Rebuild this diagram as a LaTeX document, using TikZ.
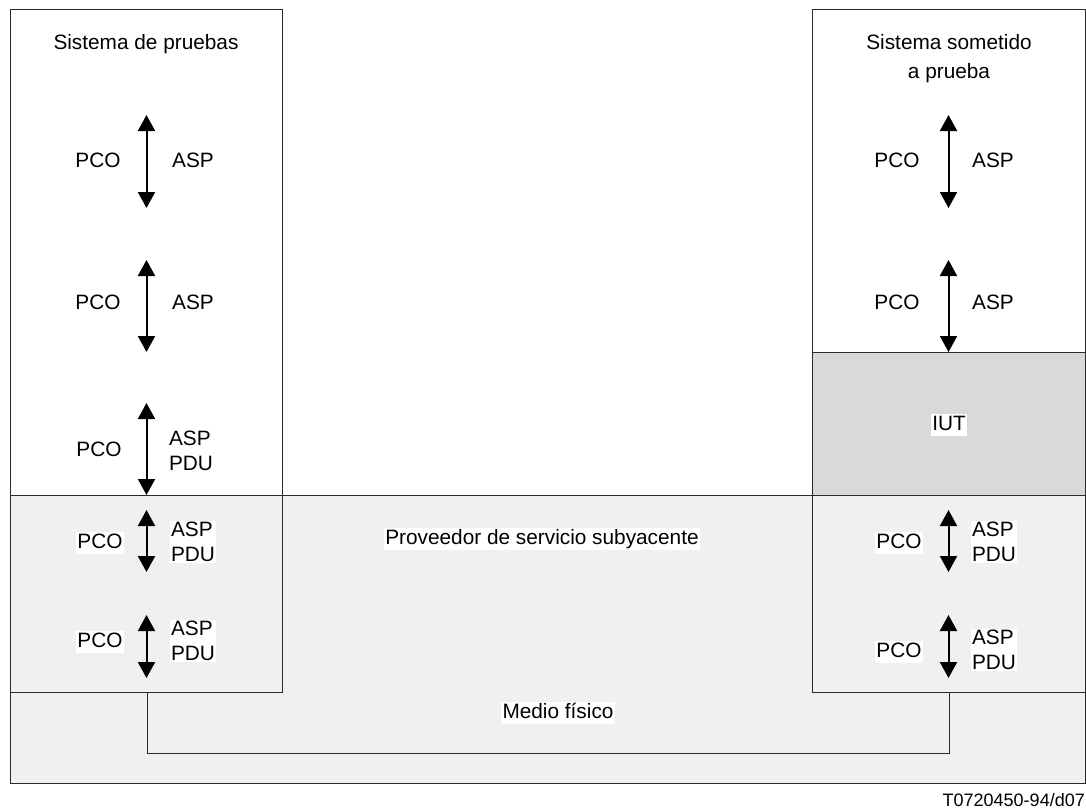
\documentclass[tikz,border=0pt]{standalone}
\usepackage{fontspec}
\setmainfont{Liberation Sans}
\usetikzlibrary{arrows.meta}
\definecolor{layergray}{HTML}{F0F0F0}
\definecolor{iutgray}{HTML}{D9D9D9}
\definecolor{edge}{HTML}{2A2A2A}

\begin{document}
\begin{tikzpicture}[x=1pt,y=-1pt,
  frame/.style={draw=edge, line width=1pt},
  lbl/.style={fill=white, inner sep=1.5pt, font=\fontsize{20.8}{24}\selectfont,
              text height=15pt, text depth=4pt},
  lbltwo/.style={fill=white, inner sep=1.5pt, font=\fontsize{20.8}{25}\selectfont,
                 align=left},
  heading/.style={font=\fontsize{20.8}{29}\selectfont, align=center},
  sap/.style={line width=2pt,
              {Triangle[width=17pt,length=16pt]}-{Triangle[width=17pt,length=16pt]}},
  link/.style={draw=edge, line width=1pt}
]
\useasboundingbox (0,0) rectangle (1086,808);

% physical medium and underlying service provider layer
\fill[layergray] (10,495) rectangle (1085,783);
\draw[frame] (10,495) rectangle (1085,783);

% test system
\fill[white] (10,10) rectangle (282,495);
\draw[frame] (10,10) rectangle (282,692);
\draw[frame] (10,495) -- (282,495);

% system under test, with the IUT layer
\fill[white] (812,10) rectangle (1085,352);
\fill[iutgray] (812,352) rectangle (1085,495);
\draw[frame] (812,10) rectangle (1085,692);
\draw[frame] (812,352) -- (1085,352);
\draw[frame] (812,495) -- (1085,495);

% headings
\node[heading] (tstitle) at (146,44) {Sistema de pruebas};
\node[heading] (suttitle) at (949,59) {Sistema sometido\\a prueba};
\node[lbl] (iut) at (949,425) {IUT};
\node[lbl] (usp) at (542,539) {Proveedor de servicio subyacente};
\node[lbl] (medium) at (558,713) {Medio f\'{\i}sico};

% points of control and observation, test system side
\coordinate (l1t) at (146.5,115); \coordinate (l1b) at (146.5,208);
\coordinate (l2t) at (146.5,260); \coordinate (l2b) at (146.5,352);
\coordinate (l3t) at (146.5,403); \coordinate (l3b) at (146.5,495);
\coordinate (l4t) at (146.5,510); \coordinate (l4b) at (146.5,572);
\coordinate (l5t) at (146.5,615); \coordinate (l5b) at (146.5,678);
\draw[sap] (l1t) -- (l1b);
\draw[sap] (l2t) -- (l2b);
\draw[sap] (l3t) -- (l3b);
\draw[sap] (l4t) -- (l4b);
\draw[sap] (l5t) -- (l5b);
\node[lbl] (lpco1) at (98,162) {PCO};
\node[lbl] (lasp1) at (193,162) {ASP};
\node[lbl] (lpco2) at (98,304) {PCO};
\node[lbl] (lasp2) at (193,304) {ASP};
\node[lbl] (lpco3) at (99,451) {PCO};
\node[lbltwo] (lasp3) at (191,451) {ASP\\PDU};
\node[lbl] (lpco4) at (100,543) {PCO};
\node[lbltwo] (lasp4) at (193,542) {ASP\\PDU};
\node[lbl] (lpco5) at (100,642) {PCO};
\node[lbltwo] (lasp5) at (193,641) {ASP\\PDU};

% points of control and observation, system under test side
\coordinate (r1t) at (948.5,115); \coordinate (r1b) at (948.5,208);
\coordinate (r2t) at (948.5,260); \coordinate (r2b) at (948.5,352);
\coordinate (r3t) at (948.5,510); \coordinate (r3b) at (948.5,572);
\coordinate (r4t) at (948.5,615); \coordinate (r4b) at (948.5,678);
\draw[sap] (r1t) -- (r1b);
\draw[sap] (r2t) -- (r2b);
\draw[sap] (r3t) -- (r3b);
\draw[sap] (r4t) -- (r4b);
\node[lbl] (rpco1) at (897,162) {PCO};
\node[lbl] (rasp1) at (993,162) {ASP};
\node[lbl] (rpco2) at (897,304) {PCO};
\node[lbl] (rasp2) at (993,304) {ASP};
\node[lbl] (rpco3) at (899,543) {PCO};
\node[lbltwo] (rasp3) at (994,542) {ASP\\PDU};
\node[lbl] (rpco4) at (899,652) {PCO};
\node[lbltwo] (rasp4) at (994,650) {ASP\\PDU};

% physical link between both systems
\coordinate (lnkl) at (147,692);
\coordinate (lnkr) at (949,692);
\draw[link] (lnkl) -- (147,753) -- (949,753) -- (lnkr);

% figure reference
\node[font=\fontsize{18}{20}\selectfont, anchor=base east, inner sep=0pt]
  (figref) at (1085,806) {T0720450-94/d07};
\end{tikzpicture}
\end{document}
